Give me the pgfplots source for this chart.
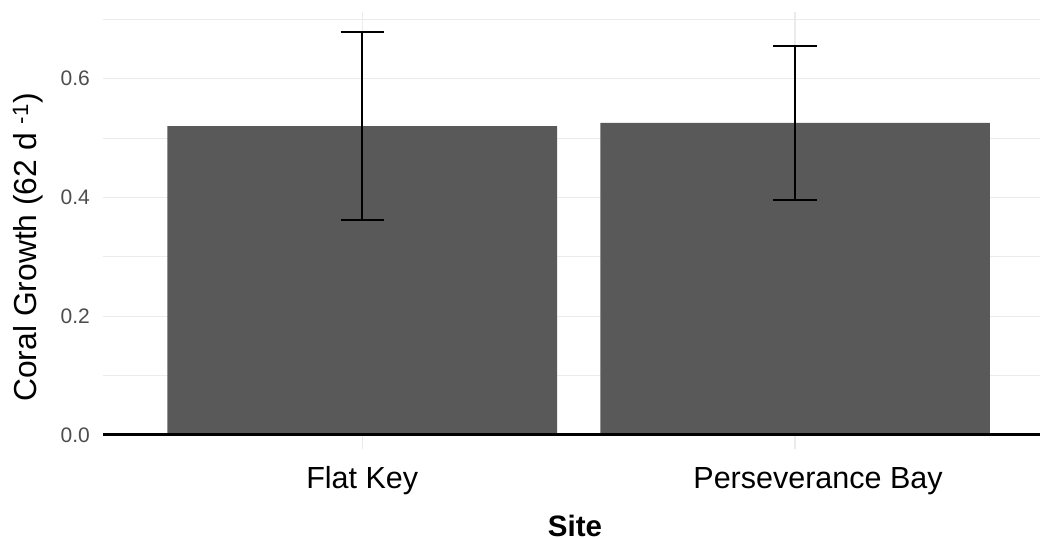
\documentclass[border=0pt]{standalone}
\usepackage{pgfplots}
\pgfplotsset{compat=1.18}
\usepackage{fontspec}
\setmainfont{Liberation Sans}

\definecolor{barfill}{HTML}{595959}
\definecolor{gridgray}{HTML}{EBEBEB}
\definecolor{ticktext}{HTML}{4D4D4D}

\begin{document}
\begin{tikzpicture}
% page frame around the panel
\useasboundingbox (-103bp,-90bp) rectangle (937bp,449bp);
\begin{axis}[
  scale only axis,
  width=937bp, height=437bp,
  xmin=0.401, xmax=2.566,
  ymin=-0.0236, ymax=0.712,
  axis line style={draw=none},
  tick style={draw=none},
  xtick={1,2},
  xticklabels={Flat Key, \hspace*{46bp}Perseverance Bay},
  ytick={0,0.2,0.4,0.6},
  minor ytick={0.1,0.3,0.5,0.7},
  ymajorgrids, yminorgrids, xmajorgrids,
  major grid style={draw=gridgray, line width=1.2bp},
  minor grid style={draw=gridgray, line width=0.7bp},
  /pgf/number format/assume math mode=true,
  yticklabel={\pgfmathprintnumber[fixed,fixed zerofill,precision=1]{\tick}},
  yticklabel style={anchor=east, inner sep=0pt, xshift=-13bp,
    text=ticktext, font=\fontsize{21bp}{25bp}\selectfont},
  xticklabel style={anchor=base, inner sep=0pt, yshift=-39bp,
    text=black, font=\fontsize{30.5bp}{36bp}\selectfont},
  ylabel={Coral Growth (62 d \textsuperscript{-1})},
  every axis y label/.style={at={(axis description cs:0,0.461)},
    xshift=-66bp, anchor=base, rotate=90,
    font=\fontsize{31.8bp}{38bp}\selectfont},
  xlabel={Site},
  every axis x label/.style={at={(axis description cs:0.5037,0)},
    anchor=base, yshift=-87bp,
    font=\bfseries\fontsize{29.5bp}{35bp}\selectfont},
  clip=false,
]
% mean growth per site with error bars
\addplot[ybar, bar width=0.9, bar shift=0pt, fill=barfill, draw=none,
  error bars/.cd, y dir=both, y explicit, error mark=|,
  error bar style={line width=1.8bp, black},
  error mark options={line width=1.8bp, mark size=21.7bp, black}]
  coordinates {
    (1,0.5197) +- (0,0.158)
    (2,0.5255) +- (0,0.1295)
  };
% zero reference line
\addplot[black, line width=3bp] coordinates {(0.401,0) (2.566,0)};
\end{axis}
\end{tikzpicture}
\end{document}
